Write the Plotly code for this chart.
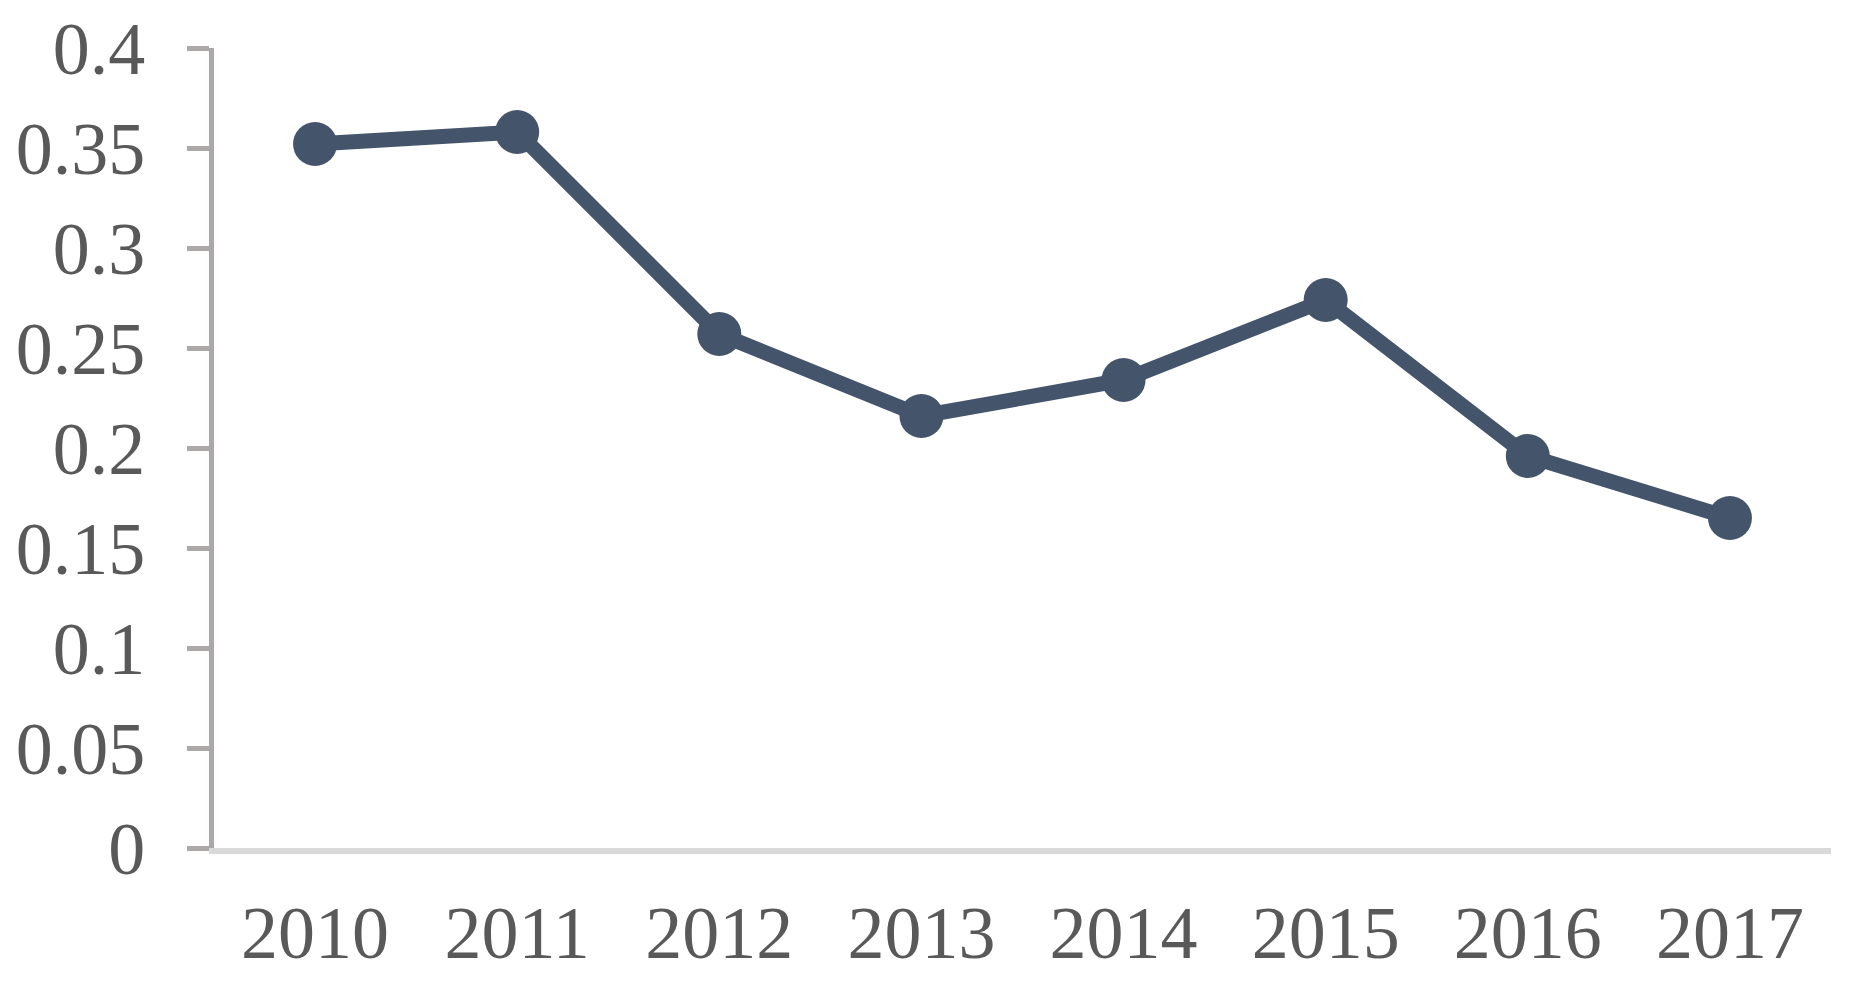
import plotly.graph_objects as go

years = ["2010", "2011", "2012", "2013", "2014", "2015", "2016", "2017"]
values = [0.352, 0.358, 0.257, 0.216, 0.234, 0.274, 0.196, 0.165]
y_ticks = [0, 0.05, 0.1, 0.15, 0.2, 0.25, 0.3, 0.35, 0.4]
y_tick_labels = ["0", "0.05", "0.1", "0.15", "0.2", "0.25", "0.3", "0.35", "0.4"]

fig = go.Figure()
fig.add_trace(go.Scatter(
    x=years, y=values, mode="lines+markers",
    line=dict(color="#44546A", width=15),
    marker=dict(color="#44546A", size=44),
    showlegend=False, cliponaxis=False,
))

font = dict(family="Liberation Serif, Times New Roman, serif", size=74, color="#595959")

fig.update_layout(
    width=1856, height=992,
    margin=dict(l=206, r=33, t=40, b=152, autoexpand=False),
    paper_bgcolor="white", plot_bgcolor="white",
    font=font,
)
fig.update_xaxes(
    type="category", range=[-0.5, len(years) - 0.5],
    showgrid=False, zeroline=False, automargin=False,
    showline=True, linecolor="#D9D9D9", linewidth=6,
    ticks="", tickfont=font, ticklabelstandoff=15, ticklabeloverflow="allow",
)
fig.update_yaxes(
    range=[0, 0.4], tickvals=y_ticks, ticktext=y_tick_labels,
    showgrid=False, zeroline=False, automargin=False,
    showline=True, linecolor="#ADA8A8", linewidth=5,
    ticks="outside", ticklen=22, tickwidth=5, tickcolor="#ADA8A8",
    tickfont=font, ticklabelstandoff=27, ticklabeloverflow="allow",
)

fig.write_html("out.html")
